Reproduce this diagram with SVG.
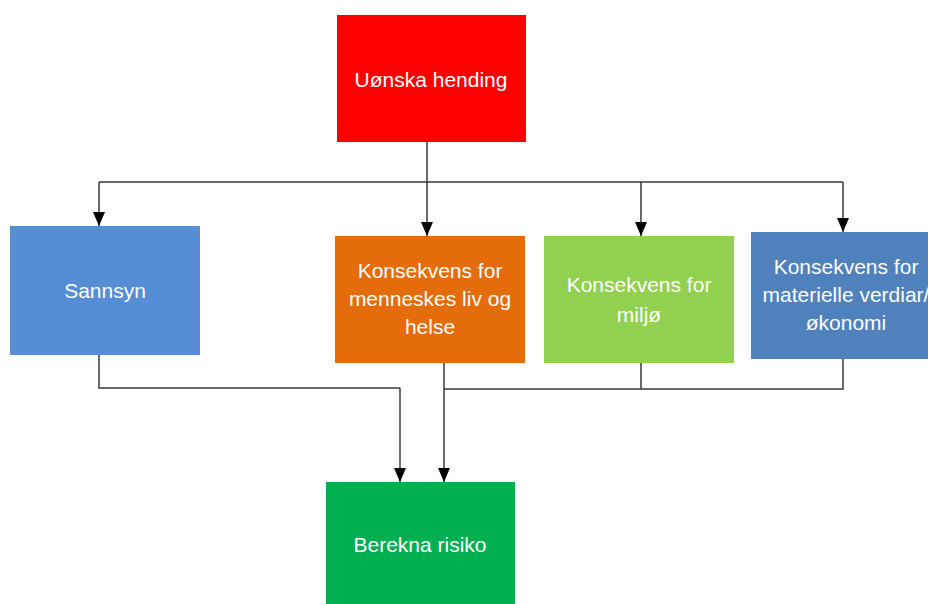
<svg xmlns="http://www.w3.org/2000/svg" width="928" height="604" viewBox="0 0 928 604">
<defs>
<marker id="arr" viewBox="0 0 14 12" refX="14" refY="6" markerWidth="14" markerHeight="12" markerUnits="userSpaceOnUse" orient="auto">
<path d="M0,0 L14,6 L0,12 z" fill="#000"/>
</marker>
<style>
.t{font-family:"Liberation Sans",Arial,sans-serif;font-size:21px;fill:#fff;text-anchor:middle}
.c{fill:none;stroke:#3a3a3a;stroke-width:1.5}
.a{fill:none;stroke:#3a3a3a;stroke-width:1.5;marker-end:url(#arr)}
</style>
</defs>
<rect width="928" height="604" fill="#fff"/>
<g id="connectors">
<path class="c" d="M427,142 V182 M99,182 H843"/>
<path class="a" d="M99,182 V226"/>
<path class="a" d="M427,182 V236"/>
<path class="a" d="M641,182 V236"/>
<path class="a" d="M843,182 V232"/>
<path class="c" d="M99,355 V388 H400"/>
<path class="a" d="M400,388 V482"/>
<path class="a" d="M444,363 V482"/>
<path class="c" d="M444,389 H843 V359 M641,363 V389"/>
</g>
<g id="uonska">
<rect x="337" y="15" width="189" height="127" fill="#FF0000"/>
<text class="t" x="431" y="87">Uønska hending</text>
</g>
<g id="sannsyn">
<rect x="10" y="226" width="190" height="129" fill="#558ED5"/>
<text class="t" x="105" y="298">Sannsyn</text>
</g>
<g id="menneske">
<rect x="335" y="236" width="190" height="127" fill="#E46C0A"/>
<text class="t" x="430" y="278">Konsekvens for</text>
<text class="t" x="430" y="306">menneskes liv og</text>
<text class="t" x="430" y="334">helse</text>
</g>
<g id="miljo">
<rect x="544" y="236" width="190" height="127" fill="#92D050"/>
<text class="t" x="639" y="292">Konsekvens for</text>
<text class="t" x="639" y="322">miljø</text>
</g>
<g id="materielle">
<rect x="751" y="232" width="190" height="127" fill="#4F81BD"/>
<text class="t" x="846" y="274">Konsekvens for</text>
<text class="t" x="846" y="302">materielle verdiar/</text>
<text class="t" x="846" y="330">økonomi</text>
</g>
<g id="berekna">
<rect x="326" y="482" width="189" height="127" fill="#00B050"/>
<text class="t" x="420" y="552">Berekna risiko</text>
</g>
</svg>
